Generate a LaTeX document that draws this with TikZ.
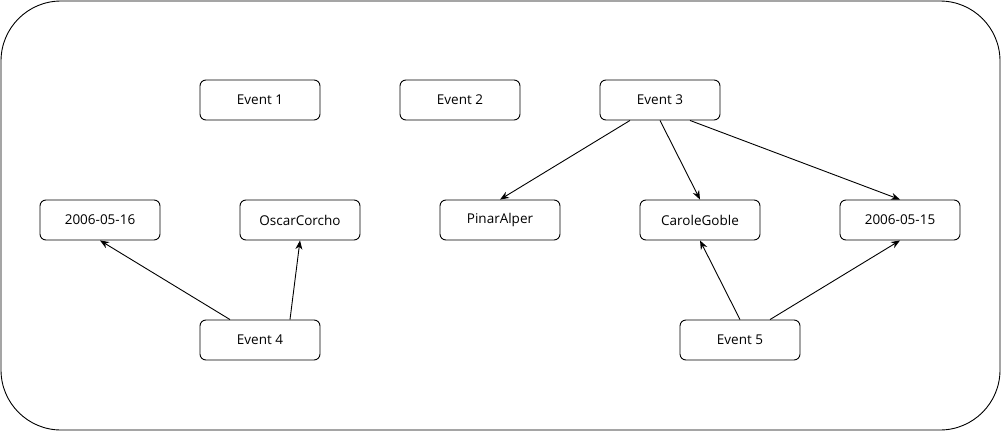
\documentclass[tikz,border=0pt]{standalone}
\usepackage{fontspec}
\setmainfont{Open Sans}
\usetikzlibrary{arrows.meta}
\begin{document}
\begin{tikzpicture}[x=1pt,y=-1pt,
  box/.style={draw, line width=0.9pt, rounded corners=6pt, minimum width=120pt, minimum height=40pt, inner sep=0pt, font=\fontsize{13.5}{15}\selectfont},
  conn/.style={line width=0.9pt, -{Stealth[length=9pt,width=7pt]}}]
\useasboundingbox (0,0) rectangle (1001,431);
\draw[line width=0.9pt, rounded corners=60pt] (1,1) rectangle (1000,430);
\node[box] (e1) at (260,100) {Event 1};
\node[box] (e2) at (460,100) {Event 2};
\node[box] (e3) at (660,100) {Event 3};
\node[box] (d16) at (100,220) {2006-05-16};
\node[box] (oc) at (300,220) {OscarCorcho};
\node[box] (pa) at (500,220) {PinarAlper};
\node[box] (cg) at (700,220) {CaroleGoble};
\node[box] (d15) at (900,220) {2006-05-15};
\node[box] (e4) at (260,340) {Event 4};
\node[box] (e5) at (740,340) {Event 5};
\draw[conn] ([xshift=-30pt]e3.south) -- (pa.north);
\draw[conn] (e3.south) -- (cg.north);
\draw[conn] ([xshift=30pt]e3.south) -- (d15.north);
\draw[conn] ([xshift=-30pt]e4.north) -- (d16.south);
\draw[conn] ([xshift=30pt]e4.north) -- (oc.south);
\draw[conn] (e5.north) -- (cg.south);
\draw[conn] ([xshift=30pt]e5.north) -- (d15.south);
\end{tikzpicture}
\end{document}
